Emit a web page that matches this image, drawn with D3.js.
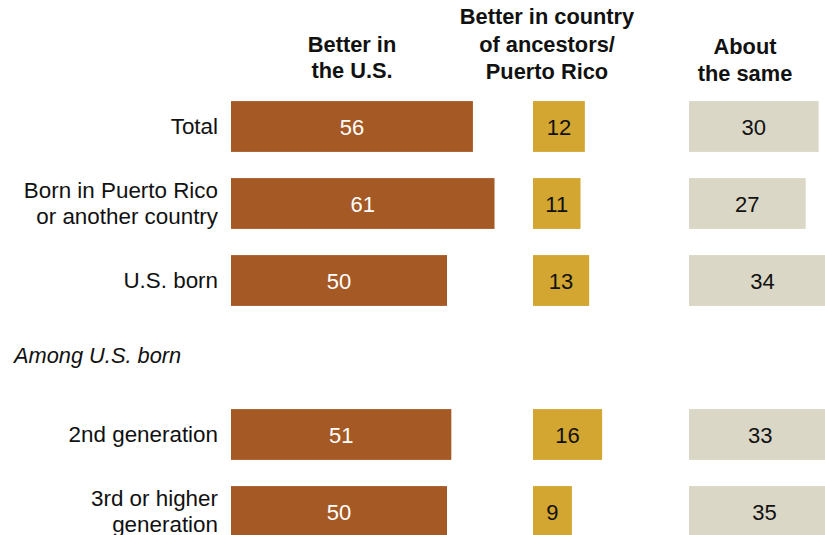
<!DOCTYPE html>
<html><head><meta charset="utf-8">
<script src="https://cdn.jsdelivr.net/npm/d3@7"></script>
<style>
html,body{margin:0;padding:0;background:#fff;overflow:hidden}
svg{display:block}
</style></head>
<body>
<script>
const categories = ["Total", "Born in Puerto Rico|or another country", "U.S. born", "__sub__", "2nd generation", "3rd or higher|generation"];
const subheading = "Among U.S. born";
const betterUS = [56, 61, 50, null, 51, 50];
const betterAncestors = [12, 11, 13, null, 16, 9];
const aboutSame = [30, 27, 34, null, 33, 35];
const headers = [["Better in", "the U.S."], ["Better in country", "of ancestors/", "Puerto Rico"], ["About", "the same"]];

const W = 825, H = 535;
const svg = d3.select("body").append("svg").attr("width", W).attr("height", H);

const y = d3.scaleBand().domain(categories).range([88, 550]).paddingInner(0.34).paddingOuter(0.17);

const panels = [
  {vals: betterUS, x0: 231, fill: "#A55A26", text: "#fff", hx: 352, hy: [52, 78]},
  {vals: betterAncestors, x0: 533, fill: "#D2A630", text: "#111", hx: 547, hy: [24, 52, 79]},
  {vals: aboutSame, x0: 689, fill: "#DAD7C6", text: "#111", hx: 745, hy: [54, 81]}
];
const x = d3.scaleLinear().domain([0, 100]).range([0, 432]);

panels.forEach((p, i) => {
  const g = svg.append("g").attr("transform", `translate(${p.x0},0)`);
  const rows = categories.map((c, j) => ({c, v: p.vals[j]})).filter(d => d.v != null);
  g.selectAll("rect").data(rows).join("rect")
    .attr("x", x(0)).attr("y", d => y(d.c))
    .attr("width", d => x(d.v)).attr("height", y.bandwidth())
    .attr("fill", p.fill);
  g.selectAll("text.val").data(rows).join("text").attr("class", "val")
    .attr("x", d => x(d.v) / 2).attr("y", d => y(d.c) + y.bandwidth() / 2 + 8)
    .attr("text-anchor", "middle")
    .attr("font-family", "Liberation Sans, Arial, sans-serif")
    .attr("font-size", 22).attr("fill", p.text)
    .text(d => d.v);
  svg.append("text").attr("text-anchor", "middle")
    .attr("font-family", "Liberation Sans, Arial, sans-serif")
    .attr("font-weight", "bold").attr("font-size", 21.8).attr("fill", "#111")
    .selectAll("tspan").data(headers[i]).join("tspan")
    .attr("x", p.hx).attr("y", (d, k) => p.hy[k]).text(d => d);
});

// category labels
categories.forEach(c => {
  if (c === "__sub__") {
    svg.append("text").attr("x", 14).attr("y", y(c) + y.bandwidth() / 2 + 5)
      .attr("font-family", "Liberation Sans, Arial, sans-serif")
      .attr("font-style", "italic").attr("font-size", 21.8).attr("fill", "#111")
      .text(subheading);
    return;
  }
  const lines = c.split("|");
  const cy = y(c) + y.bandwidth() / 2;
  const lh = 26;
  const t = svg.append("text").attr("text-anchor", "end")
    .attr("font-family", "Liberation Sans, Arial, sans-serif")
    .attr("font-size", 22.4).attr("fill", "#111");
  t.selectAll("tspan").data(lines).join("tspan")
    .attr("x", 218)
    .attr("y", (d, k) => cy + 7.5 + (k - (lines.length - 1) / 2) * lh)
    .text(d => d);
});
</script>
</body></html>
